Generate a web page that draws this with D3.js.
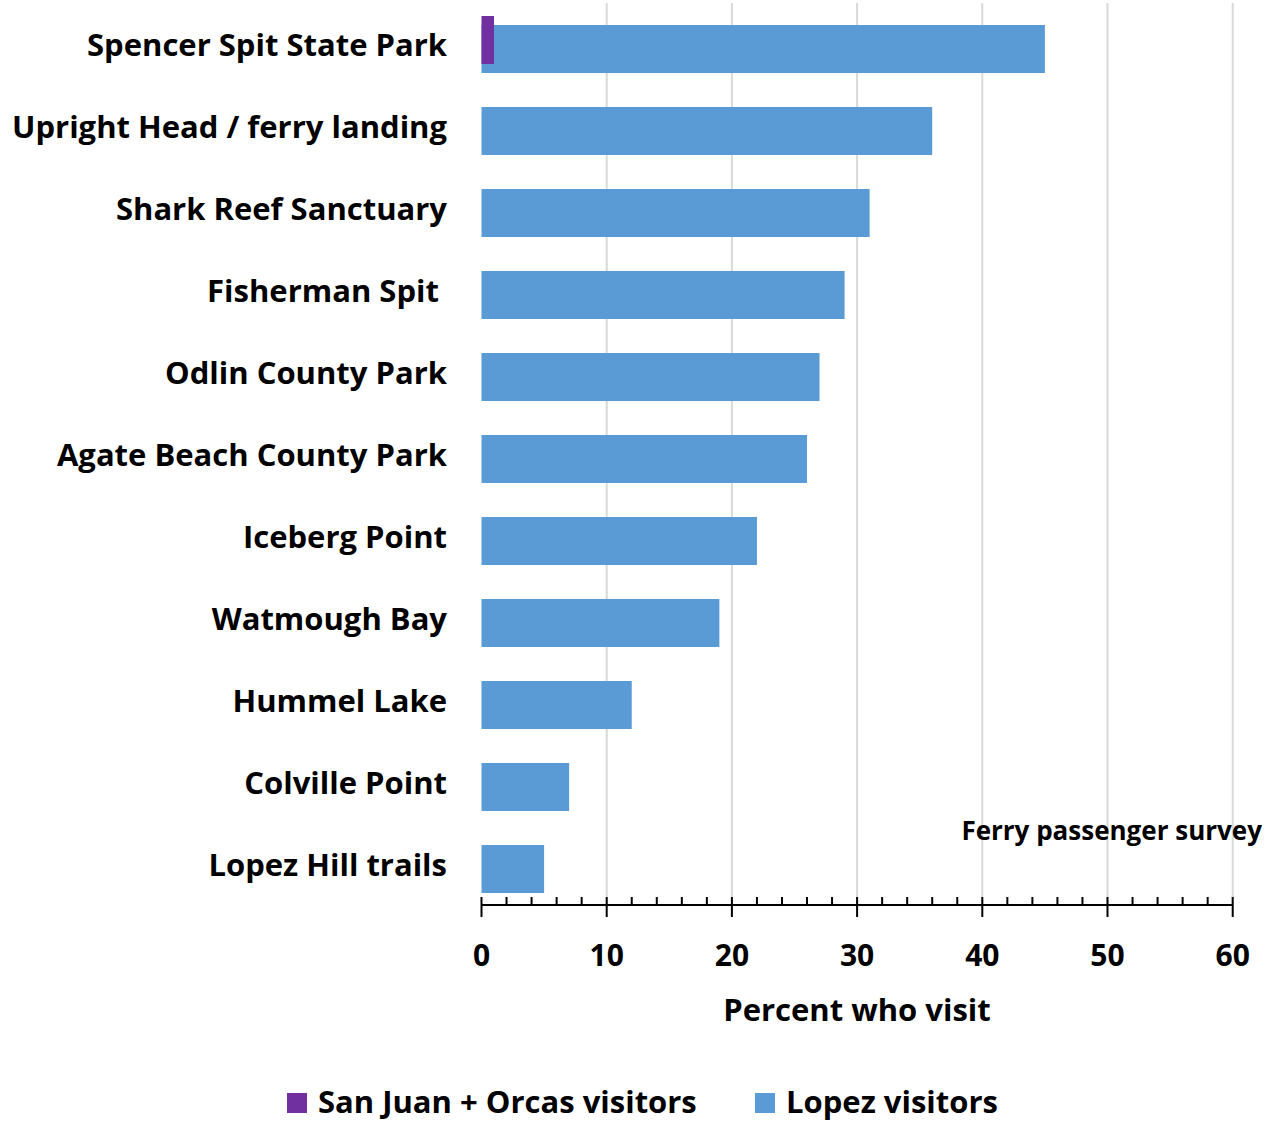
<!DOCTYPE html>
<html><head><meta charset="utf-8">
<script src="https://cdn.jsdelivr.net/npm/d3@7"></script>
<style>body{margin:0;background:#fff}text{font-family:"Open Sans",Lato,sans-serif;font-weight:bold;fill:#000;white-space:pre}</style>
</head><body>
<svg id="c" width="1267" height="1124"></svg>
<script>
const categories = ["Spencer Spit State Park","Upright Head / ferry landing","Shark Reef Sanctuary","Fisherman Spit ","Odlin County Park","Agate Beach County Park","Iceberg Point","Watmough Bay","Hummel Lake","Colville Point","Lopez Hill trails"];
const lopezVisitors = [45,36,31,29,27,26,22,19,12,7,5];
const sanJuanOrcasVisitors = [1,0,0,0,0,0,0,0,0,0,0];
const xTicks = [0,10,20,30,40,50,60];
const seriesNames = ["San Juan + Orcas visitors","Lopez visitors"];
const colors = ["#7030A0","#5B9BD5"];

const svg = d3.select("#c");
const x = d3.scaleLinear().domain([0,60]).range([481.5,1232.7]);
const y = d3.scaleBand().domain(categories).range([1,903]).padding(0);
const axisY = 905;

// gridlines
svg.append("g").selectAll("line").data(xTicks.slice(1)).join("line")
  .attr("x1",d=>x(d)).attr("x2",d=>x(d)).attr("y1",3).attr("y2",axisY)
  .attr("stroke","#D9D9D9").attr("stroke-width",2);

// bars
svg.append("g").selectAll("rect").data(categories).join("rect")
  .attr("x",x(0)).attr("y",d=>y(d)+24).attr("height",48)
  .attr("width",(d,i)=>x(lopezVisitors[i])-x(0)).attr("fill",colors[1]);
svg.append("g").selectAll("rect").data(categories.filter((d,i)=>sanJuanOrcasVisitors[i]>0)).join("rect")
  .attr("x",x(0)).attr("y",d=>y(d)+15).attr("height",48)
  .attr("width",d=>x(sanJuanOrcasVisitors[categories.indexOf(d)])-x(0)).attr("fill",colors[0]);

// category labels
svg.append("g").selectAll("text").data(categories).join("text")
  .attr("x",447).attr("y",d=>y(d)+y.bandwidth()/2+14)
  .attr("text-anchor","end").attr("font-size",31).text(d=>d);

// axis
const minor = d3.range(0,61,2);
const ag = svg.append("g");
ag.append("line").attr("x1",x(0)).attr("x2",x(60)).attr("y1",axisY).attr("y2",axisY).attr("stroke","#000").attr("stroke-width",2);
ag.selectAll(".mn").data(minor.filter(d=>d%10)).join("line").attr("class","mn")
  .attr("x1",d=>x(d)).attr("x2",d=>x(d)).attr("y1",897).attr("y2",axisY).attr("stroke","#000").attr("stroke-width",2);
ag.selectAll(".mj").data(xTicks).join("line").attr("class","mj")
  .attr("x1",d=>x(d)).attr("x2",d=>x(d)).attr("y1",897).attr("y2",917).attr("stroke","#000").attr("stroke-width",2);
ag.selectAll("text").data(xTicks).join("text")
  .attr("x",d=>x(d)).attr("y",966).attr("text-anchor","middle").attr("font-size",30).text(d=>d);

svg.append("text").attr("x",857).attr("y",1021).attr("text-anchor","middle").attr("font-size",31).text("Percent who visit");
svg.append("text").attr("x",1262).attr("y",840).attr("text-anchor","end").attr("font-size",26).text("Ferry passenger survey");

// legend
const leg = [{n:seriesNames[0],c:colors[0],sx:287,tx:318},{n:seriesNames[1],c:colors[1],sx:755,tx:786}];
const lg = svg.append("g").selectAll("g").data(leg).join("g");
lg.append("rect").attr("x",d=>d.sx).attr("y",1093).attr("width",20).attr("height",20).attr("fill",d=>d.c);
lg.append("text").attr("x",d=>d.tx).attr("y",1113).attr("font-size",31).text(d=>d.n);
</script>
</body></html>
